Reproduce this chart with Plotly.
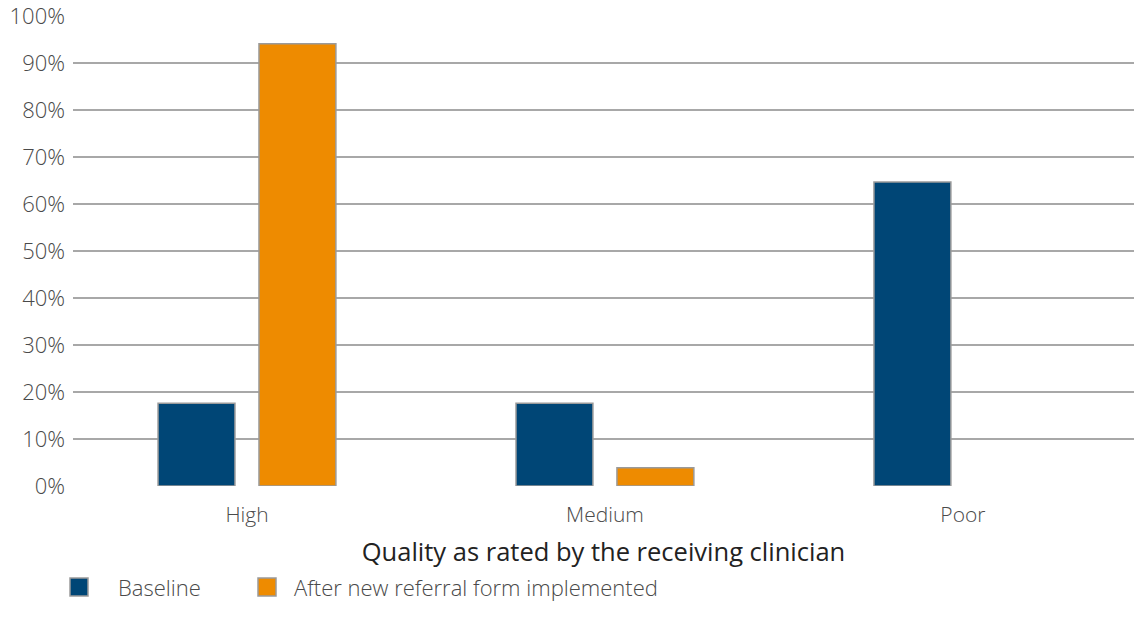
import plotly.graph_objects as go

# Share of referrals by quality rating
categories = ["High", "Medium", "Poor"]
baseline = [17.6, 17.6, 64.7]
after_form = [94.1, 3.9, 0.0]
series_names = ["Baseline", "After new referral form implemented"]
y_ticks = list(range(0, 101, 10))
y_tick_labels = [f"{v}%" for v in y_ticks]

BLUE = "#004676"
ORANGE = "#EE8B00"
OUTLINE = "#9a9a9a"
TEXT = "#4a4a4a"
FONT = "'Open Sans', Lato, sans-serif"

W, H = 1134, 629
L, R, T, B = 73, 0, 16, 143

fig = go.Figure()
for name, vals, col in [(series_names[0], baseline, BLUE),
                        (series_names[1], after_form, ORANGE)]:
    fig.add_trace(go.Bar(
        x=categories, y=vals, name=name,
        marker=dict(color=col,
                    line=dict(color=OUTLINE,
                              width=[1.5 if v > 0 else 0 for v in vals])),
        showlegend=False,
    ))

fig.update_layout(
    width=W, height=H,
    margin=dict(l=L, r=R, t=T, b=B),
    paper_bgcolor="white", plot_bgcolor="white",
    barmode="group", bargap=0.436, bargroupgap=0.238,
    font=dict(family=FONT, color=TEXT),
    xaxis=dict(
        range=[-0.486, 2.478],
        showgrid=False, zeroline=False, showline=False, ticks="",
        ticklabelstandoff=14,
        tickfont=dict(size=21, color=TEXT, weight=300),
        title=dict(text="Quality as rated by the receiving clinician",
                   font=dict(size=25.5, color="#222222", weight=400), standoff=16),
    ),
    yaxis=dict(
        range=[0, 100], tickvals=y_ticks, ticktext=y_tick_labels,
        showgrid=True, gridcolor="#a8a8a8", gridwidth=1.5,
        zeroline=False, showline=False, ticks="",
        ticklabelstandoff=7, ticklabeloverflow="allow",
        tickfont=dict(size=22, color=TEXT, weight=300),
    ),
)

# Legend drawn as boxed swatches with labels below the axis title
pw = W - L - R
def px_to_paper_x(px):
    return (px - L) / pw
ph = H - T - B
def py_to_paper_y(py):
    return (H - B - py) / ph

legend_items = [(series_names[0], BLUE, 70, 116),
                (series_names[1], ORANGE, 258, 292)]
for name, col, sx, tx in legend_items:
    fig.add_shape(type="rect", xref="paper", yref="paper",
                  x0=px_to_paper_x(sx), x1=px_to_paper_x(sx + 18),
                  y0=py_to_paper_y(596), y1=py_to_paper_y(578),
                  fillcolor=col, line=dict(color=OUTLINE, width=1.5))
    fig.add_annotation(text=name, xref="paper", yref="paper",
                       x=px_to_paper_x(tx), y=py_to_paper_y(587),
                       xanchor="left", yanchor="middle", showarrow=False,
                       font=dict(size=22, color=TEXT, weight=300))

fig.write_html("out.html")
